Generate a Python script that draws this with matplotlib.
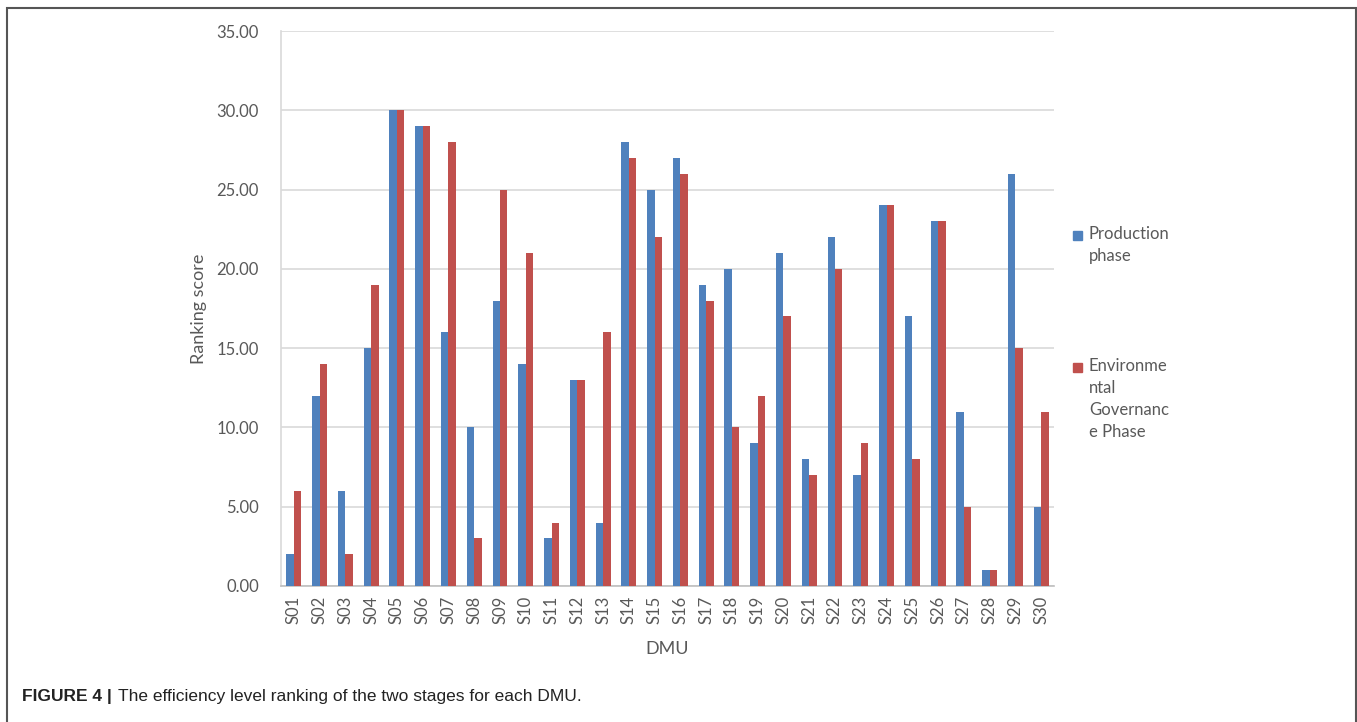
import matplotlib
matplotlib.use("Agg")
import matplotlib.pyplot as plt
from matplotlib.patches import Rectangle
import numpy as np

plt.rcParams["font.family"] = ["Lato", "DejaVu Sans"]

dmus = [f"S{i:02d}" for i in range(1, 31)]
production = [2, 12, 6, 15, 30, 29, 16, 10, 18, 14, 3, 13, 4, 28, 25,
              27, 19, 20, 9, 21, 8, 22, 7, 24, 17, 23, 11, 1, 26, 5]
environmental = [6, 14, 2, 19, 30, 29, 28, 3, 25, 21, 4, 13, 16, 27, 22,
                 26, 18, 10, 12, 17, 7, 20, 9, 24, 8, 23, 5, 1, 15, 11]
yticks = [0, 5, 10, 15, 20, 25, 30, 35]

BLUE, RED = "#4F81BD", "#C0504D"
GREY_TXT = "#595959"

W, H = 1357, 722
fig = plt.figure(figsize=(W / 100, H / 100), dpi=100)
ax = fig.add_axes([281 / W, 1 - 586 / H, (1054 - 281) / W, (586 - 31) / H])

x = np.arange(len(dmus))
bw = 0.29
ax.bar(x - bw / 2, production, bw, color=BLUE, zorder=3)
ax.bar(x + bw / 2, environmental, bw, color=RED, zorder=3)

ax.set_xlim(-0.5, len(dmus) - 0.5)
ax.set_ylim(0, 35)
ax.set_yticks(yticks)
ax.set_yticklabels([f"{v:.2f}" for v in yticks])
ax.set_xticks(x)
ax.set_xticklabels(dmus, rotation=90)
ax.tick_params(axis="both", length=0, colors=GREY_TXT, labelsize=12)
ax.tick_params(axis="y", pad=16)
ax.tick_params(axis="x", pad=7)
ax.yaxis.grid(True, color="#D9D9D9", lw=1.2, zorder=0)
for s in ["top", "right"]:
    ax.spines[s].set_visible(False)
ax.spines["left"].set_color("#D9D9D9")
ax.spines["bottom"].set_color("#BFBFBF")
ax.spines["left"].set_linewidth(1.2)
ax.spines["bottom"].set_linewidth(1.2)

ax.set_xlabel("DMU", color=GREY_TXT, fontsize=13, labelpad=12)
ax.set_ylabel("Ranking score", color=GREY_TXT, fontsize=13, labelpad=7)

# legend, drawn by hand so the swatch sits on the first line
legend = [(BLUE, "Production\nphase", 235),
          (RED, "Environme\nntal\nGovernanc\ne Phase", 367)]
for col, lab, ytop in legend:
    fig.add_artist(Rectangle((1073 / W, 1 - (ytop + 5) / H), 9 / W, 9 / H,
                             transform=fig.transFigure, color=col))
    fig.text(1089 / W, 1 - (ytop - 9) / H, lab, ha="left", va="top",
             fontsize=12, color=GREY_TXT, linespacing=1.45)

# outer frame
fig.add_artist(Rectangle((7 / W, -0.05), (1356 - 7) / W, 1 - 8 / H + 0.05,
                         transform=fig.transFigure, fill=False,
                         edgecolor="#555555", lw=1.5))

# caption: bold part, then the rest placed right after it
cap_font = ["Liberation Sans Narrow", "Liberation Sans"]
t1 = fig.text(22 / W, 1 - 697 / H, "FIGURE 4 |", fontsize=12.5, fontweight="bold",
              family=cap_font, va="center", color="#222222")
fig.canvas.draw()
bb = t1.get_window_extent(fig.canvas.get_renderer())
fig.text((bb.x1 + 6) / W, 1 - 697 / H,
         "The efficiency level ranking of the two stages for each DMU.",
         fontsize=12.5, family=cap_font, va="center", color="#222222")

fig.savefig("out.png", dpi=100)
